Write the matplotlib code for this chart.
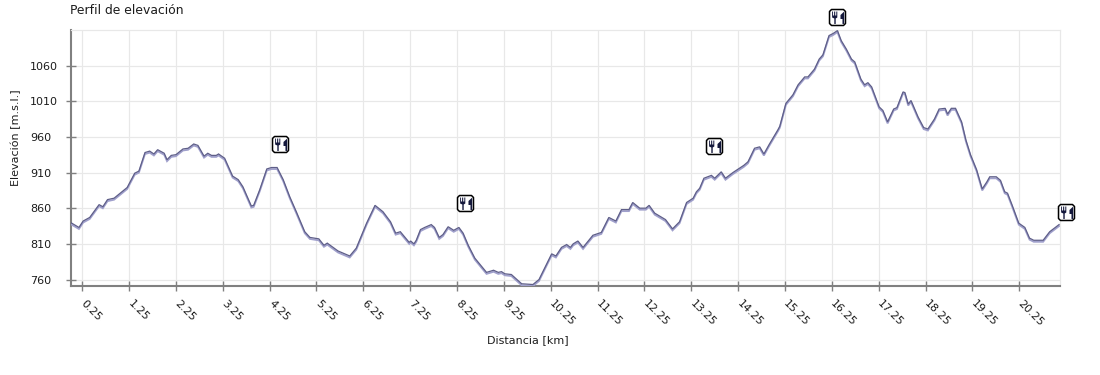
"""Perfil de elevación -- elevation profile with restaurant markers."""
import matplotlib
matplotlib.use("Agg")
import matplotlib.pyplot as plt
import matplotlib.patheffects as pe
from matplotlib.path import Path
from matplotlib.transforms import ScaledTranslation

KM = [0.00, 0.18, 0.27, 0.41, 0.61, 0.69, 0.79, 0.93, 1.21, 1.37, 1.46, 1.59, 1.69, 1.78, 1.86, 2.00,
      2.06, 2.15, 2.25, 2.40, 2.51, 2.63, 2.72, 2.85, 2.93, 3.01, 3.11, 3.16, 3.29, 3.46, 3.58, 3.68,
      3.86, 3.91, 4.04, 4.19, 4.29, 4.41, 4.54, 4.68, 4.82, 5.00, 5.11, 5.30, 5.41, 5.48, 5.71, 5.96,
      6.10, 6.32, 6.50, 6.67, 6.83, 6.94, 7.04, 7.23, 7.26, 7.33, 7.38, 7.47, 7.56, 7.70, 7.77, 7.87,
      7.95, 8.06, 8.18, 8.29, 8.38, 8.49, 8.63, 8.88, 9.03, 9.13, 9.20, 9.27, 9.41, 9.63, 9.87, 10.00,
      10.27, 10.36, 10.48, 10.59, 10.67, 10.73, 10.83, 10.94, 11.15, 11.33, 11.49, 11.64, 11.76, 11.92,
      12.00, 12.15, 12.28, 12.35, 12.47, 12.70, 12.85, 13.00, 13.15, 13.29, 13.36, 13.43, 13.52, 13.68,
      13.75, 13.89, 13.98, 14.14, 14.37, 14.46, 14.60, 14.71, 14.80, 14.91, 15.10, 15.14, 15.27, 15.42,
      15.53, 15.67, 15.74, 15.88, 15.98, 16.06, 16.19, 16.28, 16.37, 16.45, 16.56, 16.67, 16.74, 16.87,
      16.95, 17.02, 17.10, 17.26, 17.34, 17.44, 17.57, 17.64, 17.77, 17.81, 17.88, 17.94, 18.09, 18.21,
      18.30, 18.44, 18.54, 18.67, 18.72, 18.80, 18.89, 19.02, 19.11, 19.21, 19.34, 19.46, 19.56, 19.62,
      19.76, 19.85, 19.94, 20.00, 20.10, 20.24, 20.37, 20.47, 20.56, 20.76, 20.90, 21.10]
ELEV = [840, 833, 842, 847, 865, 862, 872, 874, 889, 909, 912, 938, 940, 936, 942, 937,
        928, 934, 935, 943, 944, 950, 948, 933, 937, 934, 934, 936, 930, 905, 900, 890,
        863, 864, 886, 915, 917, 917, 900, 876, 855, 827, 819, 817, 808, 811, 800, 793,
        804, 839, 864, 855, 841, 825, 827, 812, 814, 810, 815, 830, 833, 837, 833, 819,
        823, 834, 829, 833, 825, 808, 790, 770, 773, 770, 771, 768, 767, 754, 753, 760,
        796, 793, 805, 809, 805, 810, 814, 805, 822, 826, 847, 842, 858, 858,
        868, 860, 860, 864, 853, 844, 831, 841, 868, 874, 883, 888, 902, 906,
        902, 911, 902, 910, 920, 925, 944, 946, 936, 949, 970, 975, 1007, 1019,
        1033, 1044, 1044, 1055, 1069, 1075, 1102, 1105, 1109, 1095, 1083, 1069, 1065, 1041,
        1033, 1036, 1030, 1002, 997, 981, 999, 1001, 1023, 1022, 1006, 1011, 988, 973,
        971, 985, 999, 1000, 992, 1000, 1000, 981, 956, 935, 914, 887, 897, 904,
        904, 899, 883, 881, 864, 839, 833, 818, 815, 815, 827, 837]

POI_KM = [4.47, 8.41, 13.73, 16.35, 21.24]
POI_ELEV = [950, 867, 947, 1128, 855]

X_TICKS = [0.25 + i for i in range(21)]
Y_TICKS = [760, 810, 860, 910, 960, 1010, 1060]

INK = "#1c1c1c"
AXIS = "#808080"
GRID = "#e8e8e8"
ICON = "#14183c"

plt.rcParams["font.family"] = "DejaVu Sans"
plt.rcParams["font.size"] = 8.0

# rounded box and fork + knife for the restaurant markers (pixel units)
BOX = Path([(-6, -8), (6, -8), (8, -6), (8, 6), (6, 8), (-6, 8), (-8, 6), (-8, -6), (-6, -8)],
           closed=True)
GLYPH = Path(
    [(-5.4, 6), (-4.5, 6), (-4.5, 2), (-3.4, 2), (-3.4, 6), (-2.3, 6), (-2.3, 2), (-1.2, 2), (-1.2, 6), (-0.2, 6),
     (-0.2, 0), (-1.8, -1), (-1.8, -6.5), (-3.2, -6.5), (-3.2, -1), (-5.4, 0), (-5.4, 6),
     (6.7, 6), (6.7, -6.5), (5, -6.5), (5, -1.5), (3, -1.5), (3, 2.5), (6.7, 6)],
    [Path.MOVETO] + [Path.LINETO] * 15 + [Path.CLOSEPOLY]
    + [Path.MOVETO] + [Path.LINETO] * 5 + [Path.CLOSEPOLY],
)

fig = plt.figure(figsize=(11, 3.75), dpi=100)
ax = fig.add_axes([70.5 / 1100, 1 - 285.5 / 375, 989.5 / 1100, 255.5 / 375])
ax.set_xlim(0, 21.12)
ax.set_ylim(751.6, 1109.8)

ax.grid(True, color=GRID, lw=0.85)
ax.set_axisbelow(True)
for side in ("top", "right"):
    ax.spines[side].set_color(GRID)
    ax.spines[side].set_linewidth(0.85)
for side in ("left", "bottom"):
    ax.spines[side].set_color(AXIS)
ax.spines["left"].set_linewidth(1.5)
ax.spines["bottom"].set_linewidth(1.5)

ax.plot(KM, ELEV, color="#5e5e88", lw=0.9, zorder=3, solid_joinstyle="miter",
        path_effects=[pe.SimpleLineShadow(offset=(0, -1.1), shadow_color="#a0a0cc", alpha=1.0, linewidth=1.3),
                      pe.Normal()])

ax.plot(POI_KM, POI_ELEV, ls="none", marker=BOX, ms=11.5, mfc="white", mec="black", mew=1.1,
        clip_on=False, zorder=5)
ax.plot(POI_KM, POI_ELEV, ls="none", marker=GLYPH, ms=9.6, mfc=ICON, mec="none",
        clip_on=False, zorder=6)

ax.set_xticks(X_TICKS)
ax.set_xticklabels([f"{t:.2f}" for t in X_TICKS], rotation=-45, ha="left", va="top",
                   rotation_mode="anchor")
ax.set_yticks(Y_TICKS)
ax.tick_params(axis="both", direction="inout", length=7.2, width=1.0, color=AXIS, labelcolor=INK)
ax.tick_params(axis="x", pad=6)
ax.tick_params(axis="y", pad=25.6)
for lab in ax.get_yticklabels():
    lab.set_ha("left")
# the rotated labels start right of their tick
shift = ScaledTranslation(4 / 100, 0, fig.dpi_scale_trans)
for lab in ax.get_xticklabels():
    lab.set_transform(lab.get_transform() + shift)

fig.text(70 / 1100, 1 - 14 / 375, "Perfil de elevación", color=INK, fontsize=8.9, ha="left", va="baseline")
fig.text(528 / 1100, 1 - 340 / 375, "Distancia [km]", color=INK, ha="center", va="center")
fig.text(16 / 1100, 1 - 137.5 / 375, "Elevación [m.s.l.]", color=INK, rotation=90, ha="center", va="center")

fig.savefig("out.png", dpi=100)
